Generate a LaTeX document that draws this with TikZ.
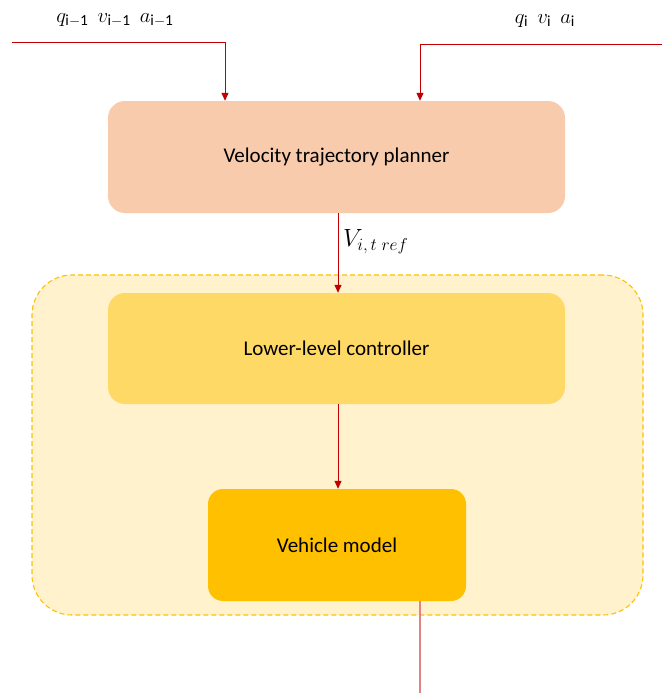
\documentclass[tikz,border=0pt]{standalone}
\usepackage{fontspec}
\setmainfont{Carlito}
\usetikzlibrary{arrows.meta}
\definecolor{wire}{RGB}{192,0,0}
\definecolor{wirelight}{RGB}{226,130,130}
\definecolor{planfill}{RGB}{248,203,173}
\definecolor{ctrlfill}{RGB}{255,217,102}
\definecolor{vehfill}{RGB}{255,192,0}
\definecolor{groupfill}{RGB}{255,242,204}
\definecolor{groupline}{RGB}{255,192,0}
\tikzset{
  block/.style={rounded corners=17pt, inner sep=0pt, align=center,
    font=\fontsize{21}{25}\selectfont},
  sig/.style={draw=wire, line width=1pt},
  sigarrow/.style={sig, -{Triangle[length=8pt,width=7pt]}},
  mlabel/.style={inner sep=0pt, font=\fontsize{22}{26}\selectfont},
}
\begin{document}
\begin{tikzpicture}[x=1pt,y=-1pt]
\useasboundingbox (0,0) rectangle (662,693);

% dashed group around controller and vehicle
\node[draw=groupline, fill=groupfill, dash pattern=on 5pt off 3pt, line width=1.1pt,
      rounded corners=40pt, minimum width=611pt, minimum height=340pt,
      inner sep=0pt] (group) at (337.5,445) {};

% blocks
\node[block, fill=planfill, minimum width=457pt, minimum height=112pt]
  (planner) at (336.5,157) {Velocity trajectory planner};
\node[block, fill=ctrlfill, minimum width=457pt, minimum height=111pt]
  (ctrl) at (336.5,348.5) {Lower-level controller};
\node[block, fill=vehfill, rounded corners=15pt, minimum width=258pt, minimum height=112pt]
  (veh) at (337,545) {Vehicle model};

% input labels
\node[mlabel] (lblprev) at (115,20) {$q_{\mathrm{i-1}}\;\,v_{\mathrm{i-1}}\;\,a_{\mathrm{i-1}}$};
\node[mlabel] (lblcur) at (545,21) {$q_{\mathrm{i}}\;\,v_{\mathrm{i}}\;\,a_{\mathrm{i}}$};

% input wires
\coordinate (inprev) at (12,43);
\coordinate (kprev) at (225,43);
\coordinate (incur) at (662,45);
\coordinate (kcur) at (420,45);
\draw[sigarrow] (inprev) -- (kprev) -- (kprev |- planner.north);
\draw[sigarrow] (incur) -- (kcur) -- (kcur |- planner.north);

% reference velocity
\coordinate (refx) at (338,0);
\draw[sigarrow] (refx |- planner.south) -- (refx |- ctrl.north);
\node[mlabel, anchor=west, font=\fontsize{24}{28}\selectfont] (lblref) at (343,242) {$V_{i,\,t\;ref}$};

% controller to vehicle
\draw[sigarrow] (refx |- ctrl.south) -- (refx |- veh.north);

% output
\coordinate (out) at (420,693);
\draw[draw=wirelight, line width=1.1pt] (out |- veh.south) -- (out);
\end{tikzpicture}
\end{document}
